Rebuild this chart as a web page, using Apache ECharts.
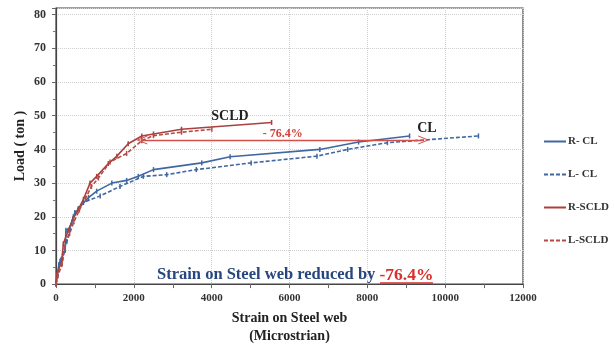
<!DOCTYPE html>
<html>
<head>
<meta charset="utf-8">
<script src="https://cdn.jsdelivr.net/npm/echarts@6/dist/echarts.min.js"></script>
<style>
  html, body { margin: 0; padding: 0; background: #fff; }
  #chart { width: 614px; height: 350px; }
</style>
</head>
<body>
<div id="chart"></div>
<script>
// Load (ton) against strain on the steel web (microstrain), [strain, load]
const rCL = [[0,0],[75,5.8],[235,10],[255,16],[355,16.6],[445,20],[575,22.4],[835,25.7],[1045,27.6],[1435,30],[1815,30.8],[2115,32],[2505,34],[3745,36],[4475,37.8],[6780,40],[7775,42.2],[9085,44]];
const lCL = [[0,0],[105,6.8],[275,12.6],[405,18.4],[485,21.3],[705,24.2],[1135,26.2],[1645,29],[2245,32],[2845,32.5],[3605,34],[5015,36],[6705,38],[7495,40],[8515,42],[10855,44]];
const rSCLD = [[0,0],[25,3],[150,7],[190,12],[315,16],[445,19.5],[575,22.3],[705,25.2],[875,30],[1045,32],[1345,35.8],[1565,38],[1855,41.7],[2205,44],[2505,44.6],[3225,46],[5540,48]];
const lSCLD = [[0,0],[50,2.5],[160,6],[230,11],[350,15],[460,18.5],[600,22],[760,25.5],[910,29],[1090,31.5],[1390,36.3],[1815,38.8],[2205,42.6],[2505,44.1],[3225,45.1],[4005,46]];

const seriesNames = ['R- CL', 'L- CL', 'R-SCLD', 'L-SCLD'];
const xTicks = { min: 0, max: 12000, step: 2000 };
const yTicks = { min: 0, max: 82, step: 10 };

// Reduction marker between the two groups, and its label
const reductionFrom = [2205, 42.8];
const reductionTo = [9450, 42.8];
const reductionText = '- 76.4%';
const groupLabels = [
  { text: 'SCLD', at: [4470, 49.7] },
  { text: 'CL', at: [9530, 46.3] }
];
const noteLead = 'Strain on Steel web reduced by ';
const notePct = '-76.4%';

const BLUE = '#3F67A2';
const RED = '#AA403C';
const SERIF = '"Liberation Serif", "DejaVu Serif", serif';
const chevron = 'path://M6,0L12,10L10.6,10L6,2.4L1.4,10L0,10Z';
const tickMark = 'path://M0,0L1,0L1,6L0,6Z';

// Note below the curves; the percentage gets its own underline
const NOTE_SIZE = 16.5, PCT_SIZE = 17.5, NOTE_X = 157, NOTE_Y = 266;
const UNDERLINE = { x1: 380, x2: 433, y: 283 };

const chart = echarts.init(document.getElementById('chart'), null, { renderer: 'canvas' });

function lineSeries(name, data, color, dashed, extra) {
  return Object.assign({
    name: name,
    type: 'line',
    data: data,
    symbol: tickMark,
    symbolSize: [1.5, 5],
    showSymbol: true,
    itemStyle: { color: color },
    lineStyle: { color: color, width: 1.6, type: dashed ? [4, 2] : 'solid' },
    animation: false,
    z: 3
  }, extra || {});
}

const labelStyle = { fontFamily: SERIF, fontWeight: 'bold', fontSize: 14, color: '#222' };

const option = {
  backgroundColor: '#fff',
  animation: false,
  grid: {
    left: 56, right: 91, top: 8, bottom: 60,
    show: true, borderColor: '#444', borderWidth: 1.2, backgroundColor: 'transparent'
  },
  legend: {
    orient: 'vertical',
    left: 538, top: 131,
    itemWidth: 22, itemHeight: 8, itemGap: 22,
    itemStyle: { opacity: 0 },
    data: seriesNames,
    textStyle: { fontFamily: SERIF, fontWeight: 'bold', fontSize: 11, color: '#333', padding: [0, 0, 0, -3] }
  },
  xAxis: {
    type: 'value',
    min: xTicks.min, max: xTicks.max, interval: xTicks.step,
    name: 'Strain on Steel web\n(Microstrian)',
    nameLocation: 'middle', nameGap: 24,
    nameTextStyle: { fontFamily: SERIF, fontWeight: 'bold', fontSize: 14, color: '#222', lineHeight: 18 },
    axisLine: { show: true, lineStyle: { color: '#444', width: 1.2 } },
    axisTick: { show: true, length: 4, lineStyle: { color: '#666' } },
    minorTick: { show: true, splitNumber: 2, length: 4, lineStyle: { color: '#666' } },
    axisLabel: {
      fontFamily: SERIF, fontWeight: 'bold', fontSize: 11, color: '#333', margin: 9,
      formatter: function (v) { return String(v); }
    },
    splitLine: { show: true, lineStyle: { color: '#d0d0d0', type: 'dotted', width: 1 } }
  },
  yAxis: {
    type: 'value',
    min: yTicks.min, max: yTicks.max, interval: yTicks.step,
    name: 'Load ( ton )',
    nameLocation: 'middle', nameGap: 29, nameRotate: 90,
    nameMoveOverlap: false,
    nameTextStyle: { fontFamily: SERIF, fontWeight: 'bold', fontSize: 14, color: '#222' },
    axisLine: { show: true, lineStyle: { color: '#444', width: 1.2 } },
    axisTick: { show: true, length: 4, lineStyle: { color: '#666' } },
    minorTick: { show: true, splitNumber: 2, length: 3, lineStyle: { color: '#777' } },
    axisLabel: { fontFamily: SERIF, fontWeight: 'bold', fontSize: 12, color: '#333', margin: 10, showMaxLabel: false },
    splitLine: { show: true, lineStyle: { color: '#d0d0d0', type: 'dotted', width: 1 } }
  },
  series: [
    lineSeries(seriesNames[0], rCL, BLUE, false, {
      markPoint: {
        symbol: 'circle', symbolSize: 1,
        itemStyle: { color: 'transparent' },
        label: Object.assign({ show: true, position: 'inside' }, labelStyle),
        data: [{ coord: groupLabels[1].at, value: groupLabels[1].text, label: { formatter: groupLabels[1].text } }]
      }
    }),
    lineSeries(seriesNames[1], lCL, BLUE, true),
    lineSeries(seriesNames[2], rSCLD, RED, false, {
      markPoint: {
        symbol: 'circle', symbolSize: 1,
        itemStyle: { color: 'transparent' },
        label: Object.assign({ show: true, position: 'inside' }, labelStyle),
        data: [{ coord: groupLabels[0].at, value: groupLabels[0].text, label: { formatter: groupLabels[0].text } }]
      },
      markLine: {
        silent: true,
        symbol: [chevron, chevron],
        symbolSize: [9, 11],
        lineStyle: { color: '#D2504A', width: 1.3, type: 'solid' },
        label: {
          show: true, position: 'insideMiddleTop', distance: 0,
          formatter: reductionText,
          fontFamily: SERIF, fontWeight: 'bold', fontSize: 12, color: '#D2403A'
        },
        data: [[{ coord: reductionFrom }, { coord: reductionTo }]]
      }
    }),
    lineSeries(seriesNames[3], lSCLD, '#B44A46', true)
  ],
  graphic: [
    {
      type: 'text', x: NOTE_X, y: NOTE_Y + 9, z: 10,
      style: {
        text: '{a|' + noteLead + '}{b|' + notePct + '}',
        verticalAlign: 'middle',
        rich: {
          a: { fontFamily: SERIF, fontWeight: 'bold', fontSize: NOTE_SIZE, fill: '#27457F' },
          b: { fontFamily: SERIF, fontWeight: 'bold', fontSize: PCT_SIZE, fill: '#D8302C' }
        }
      }
    },
    {
      type: 'line', z: 11,
      shape: { x1: UNDERLINE.x1, y1: UNDERLINE.y, x2: UNDERLINE.x2, y2: UNDERLINE.y },
      style: { stroke: '#D8302C', lineWidth: 1.5 }
    }
  ]
};

chart.setOption(option);
</script>
</body>
</html>
